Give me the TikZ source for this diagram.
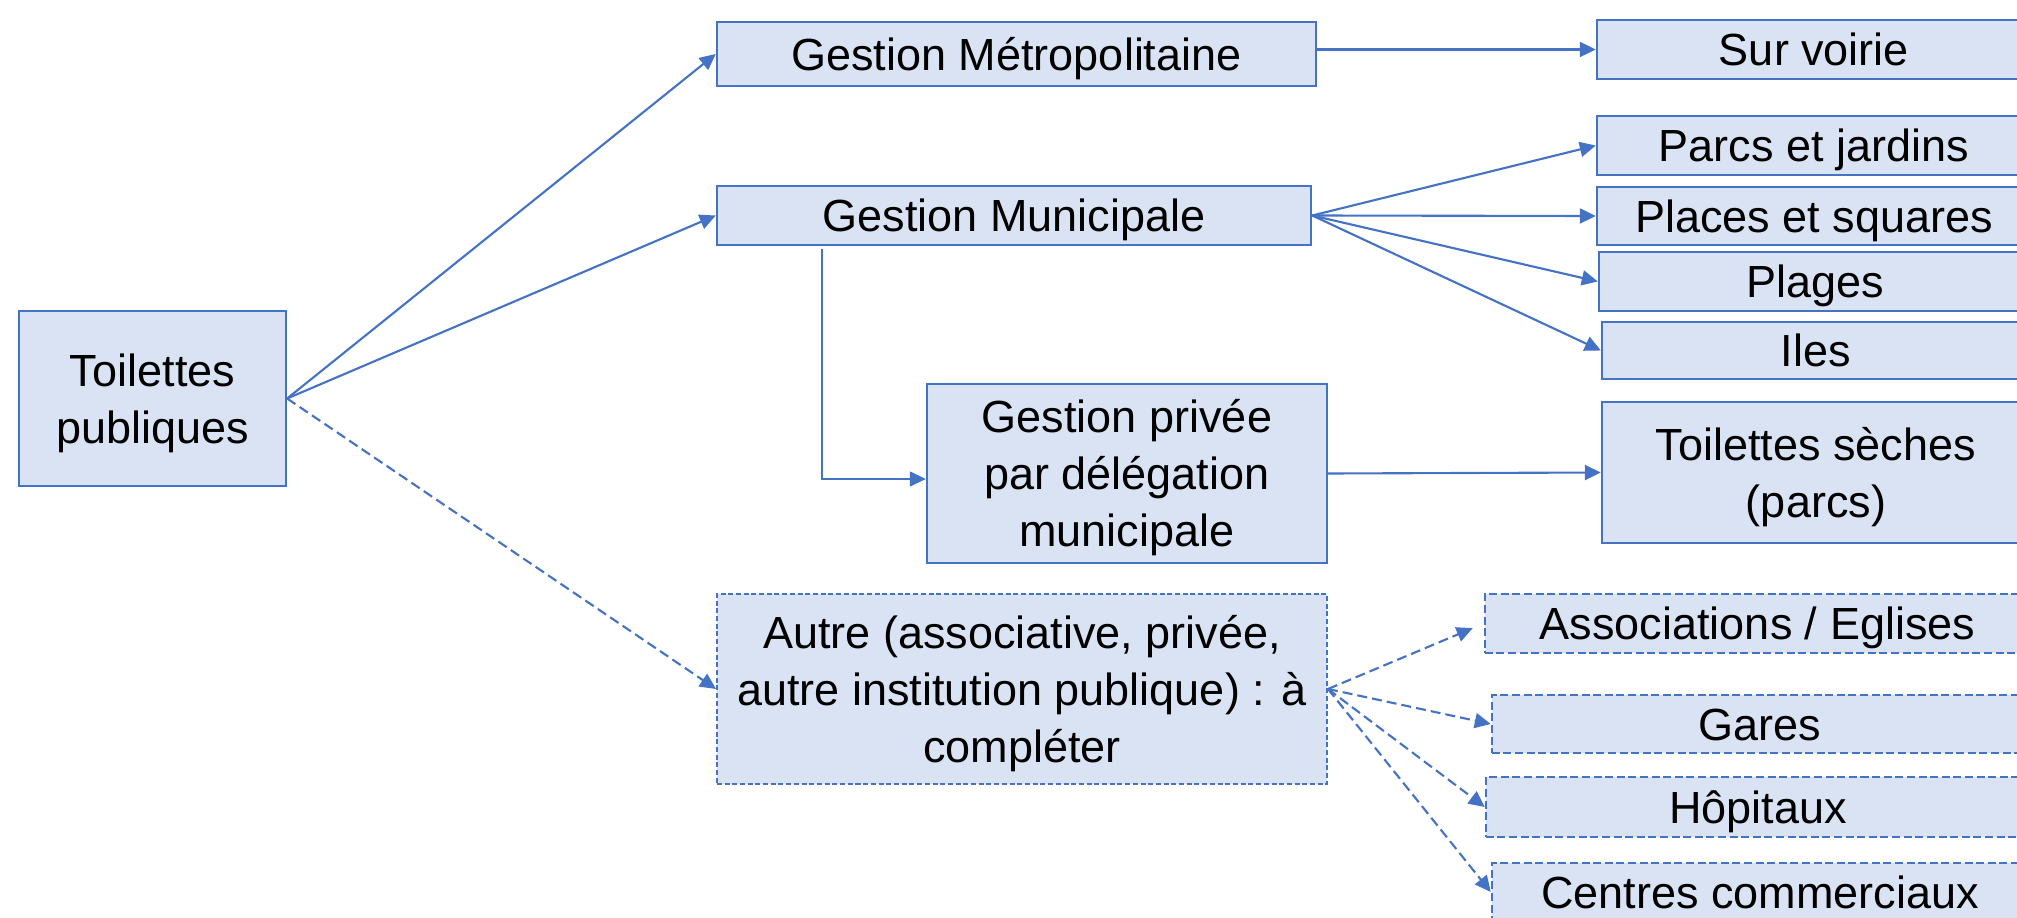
\documentclass[tikz,border=0pt]{standalone}
\usepackage{fontspec}
\setmainfont{Liberation Sans}
\usetikzlibrary{arrows.meta}
\definecolor{boxfill}{HTML}{DAE3F3}
\definecolor{boxline}{HTML}{4472C4}

\begin{document}
\begin{tikzpicture}[x=0.01cm,y=-0.01cm,
    box/.style={draw=boxline,fill=boxfill,line width=0.6pt,align=center,inner sep=0pt,text height=9.2pt,text depth=0pt,font=\fontsize{12.8pt}{16.2pt}\selectfont},
    twolines/.style={text height=25.4pt},
    threelines/.style={text height=41.6pt},
    dbox/.style={box,dash pattern=on 0.08cm off 0.036cm},
    arr/.style={-{Triangle[length=0.16cm,width=0.15cm]},boxline,line width=0.6pt},
    darr/.style={arr,dash pattern=on 0.1cm off 0.05cm}]
        \useasboundingbox (0,0) rectangle (2017,918);
        \clip (0,0) rectangle (2017,918);

        \node[box,twolines,minimum width=2.67cm,minimum height=1.75cm] at (152.5,398.5) (1){Toilettes\\publiques};
        \node[box,minimum width=5.99cm,minimum height=0.64cm] at (1016.5,54) (2){Gestion Métropolitaine};
        \node[box,minimum width=5.94cm,minimum height=0.59cm] at (1014,215.5) (3){Gestion Municipale};
        \node[box,threelines,minimum width=4.00cm,minimum height=1.79cm] at (1127,473.5) (4){Gestion privée\\par délégation\\municipale};
        \node[box,threelines,line width=0.45pt,dash pattern=on 0.05cm off 0.027cm,minimum width=6.10cm,minimum height=1.90cm] at (1022,689) (5){Autre (associative, privée,\\autre institution publique) : à\\compléter};
        \node[box,minimum width=4.34cm,minimum height=0.59cm] at (1814,49.5) (6){Sur voirie};
        \node[box,minimum width=4.34cm,minimum height=0.59cm] at (1814,145.5) (7){Parcs et jardins};
        \node[box,minimum width=4.34cm,minimum height=0.58cm] at (1814,216) (8){Places et squares};
        \node[box,minimum width=4.32cm,minimum height=0.59cm] at (1815,281.5) (9){Plages};
        \node[box,minimum width=4.28cm,minimum height=0.57cm] at (1816,350.5) (10){Iles};
        \node[box,twolines,minimum width=4.28cm,minimum height=1.41cm] at (1816,472.5) (11){Toilettes sèches\\(parcs)};
        \node[dbox,minimum width=5.45cm,minimum height=0.59cm] at (1757.5,623.5) (12){Associations / Eglises};
        \node[dbox,minimum width=5.36cm,minimum height=0.58cm] at (1760,724) (13){Gares};
        \node[dbox,minimum width=5.44cm,minimum height=0.60cm] at (1758,807) (14){Hôpitaux};
        \node[dbox,minimum width=5.36cm,minimum height=0.58cm] at (1760,892) (15){Centres commerciaux};

        \draw[arr] (1.east) -- (2.west); %1-2
        \draw[arr] (1.east) -- (3.west); %1-3
        \draw[darr] (1.east) -- (5.west); %1-5
        \draw[arr] (2.east |- 6.west) -- (6.west); %2-6
        \draw[arr] (3.east) -- (7.west); %3-7
        \draw[arr] (3.east) -- (8.west); %3-8
        \draw[arr] (3.east) -- (9.west); %3-9
        \draw[arr] (3.east) -- (10.west); %3-10
        \draw[arr,line width=0.4pt] ([xshift=1.06cm,yshift=-0.03cm]3.south west) |- ([yshift=-0.055cm]4.west); %3-4
        \draw[arr] (4.east) -- (11.west); %4-11
        \draw[darr,shorten >=0.12cm] (5.east) -- (12.west); %5-12
        \draw[darr] (5.east) -- (13.west); %5-13
        \draw[darr] (5.east) -- (14.west); %5-14
        \draw[darr] (5.east) -- (15.west); %5-15
    \end{tikzpicture}
\end{document}
